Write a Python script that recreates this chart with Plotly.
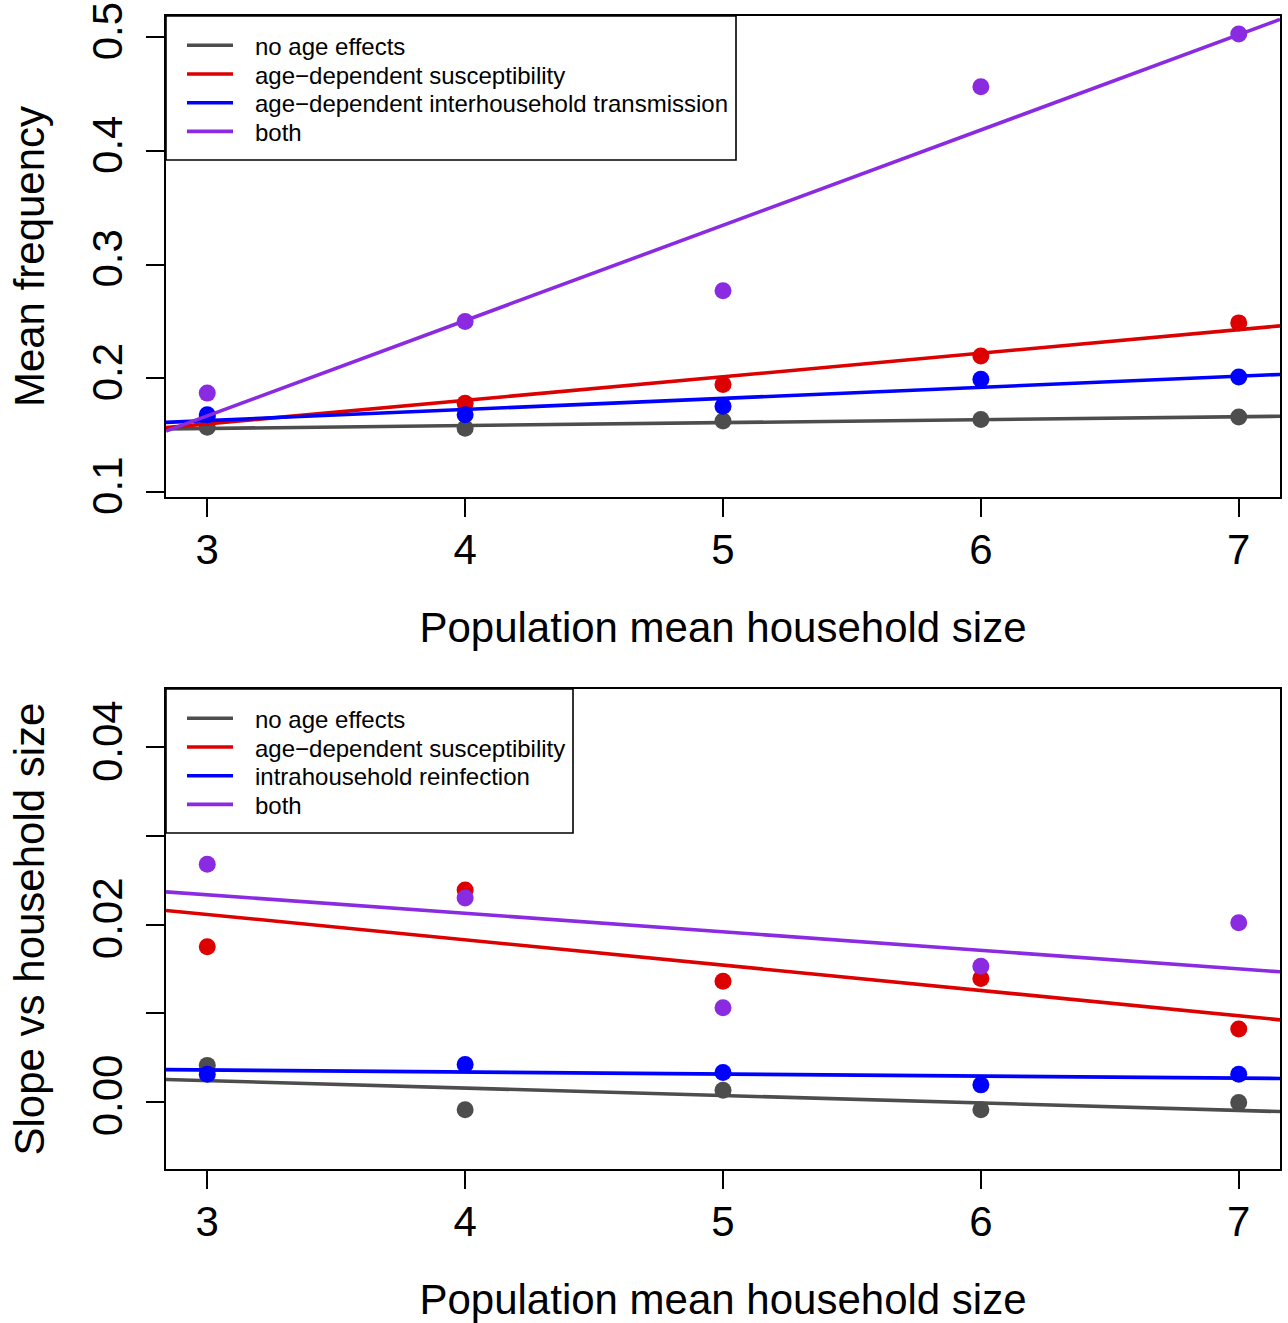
import numpy as np
import plotly.graph_objects as go

# ---------------- data ----------------
household_size = [3, 4, 5, 6, 7]
x_tick_vals = [3, 4, 5, 6, 7]
x_range = [2.84, 7.16]

names_top = ["no age effects", "age\u2212dependent susceptibility",
             "age\u2212dependent interhousehold transmission", "both"]
names_bottom = ["no age effects", "age\u2212dependent susceptibility",
                "intrahousehold reinfection", "both"]
colors = ["#4D4D4D", "#DD0000", "#0000FF", "#8A2BE2"]

# top panel: mean frequency
freq_none = [0.157, 0.156, 0.1625, 0.1637, 0.166]
freq_susc = [0.166, 0.178, 0.1945, 0.2197, 0.2488]
freq_inter = [0.168, 0.168, 0.1754, 0.1992, 0.2012]
freq_both = [0.187, 0.250, 0.277, 0.4565, 0.503]

# bottom panel: slope vs household size
slope_none = [0.0041, -0.0009, 0.0013, -0.0009, -0.0001]
slope_susc = [0.0175, 0.0239, 0.0136, 0.0139, 0.0082]
slope_intra = [0.0031, 0.0042, 0.0033, 0.0019, 0.0031]
slope_both = [0.0268, 0.0230, 0.0106, 0.0153, 0.0202]

top_ticks = [0.1, 0.2, 0.3, 0.4, 0.5]
top_ticktext = ["0.1", "0.2", "0.3", "0.4", "0.5"]
top_range = [0.0956, 0.5188]
bot_ticks = [0.0, 0.01, 0.02, 0.03, 0.04]
bot_ticktext = ["0.00", "", "0.02", "", "0.04"]
bot_range = [-0.0076, 0.0466]

x_title = "Population mean household size"
y_title_top = "Mean frequency"
y_title_bot = "Slope vs household size"

# ---------------- layout geometry (pixels) ----------------
W, H = 1288, 1323
ML, MR, MT, MB = 166, 8, 16, 154
PW = W - ML - MR
PH = H - MT - MB
top_px = (16, 497)
bot_px = (689, 1169)
top_dom = [1 - (top_px[1] - MT) / PH, 1 - (top_px[0] - MT) / PH]
bot_dom = [1 - (bot_px[1] - MT) / PH, 1 - (bot_px[0] - MT) / PH]

FONT = "Liberation Sans, Arial, Helvetica, sans-serif"
LINE_W = 3.6
fig = go.Figure()


def add_panel(series, xa, ya):
    for vals, col in zip(series, colors):
        fig.add_trace(go.Scatter(
            x=household_size, y=vals, mode="markers",
            marker=dict(color=col, size=17, line=dict(width=0)),
            xaxis=xa, yaxis=ya, showlegend=False))
        slope, intercept = np.polyfit(household_size, vals, 1)
        xs = np.array(x_range)
        fig.add_trace(go.Scatter(
            x=xs, y=intercept + slope * xs, mode="lines",
            line=dict(color=col, width=LINE_W),
            xaxis=xa, yaxis=ya, showlegend=False, hoverinfo="skip"))


add_panel([freq_none, freq_susc, freq_inter, freq_both], "x", "y")
add_panel([slope_none, slope_susc, slope_intra, slope_both], "x2", "y2")


# ---------------- R-style legends (box + line keys + text) ----------------
def add_legend(names, xref, yref, panel_h, box_w_px):
    fx = lambda px: px / PW
    fy = lambda px: 1 - px / panel_h
    fig.add_shape(type="rect", xref=xref, yref=yref,
                  x0=0, x1=fx(box_w_px), y0=fy(144), y1=1,
                  line=dict(color="black", width=1.6), fillcolor="white",
                  layer="above")
    for i, (name, col) in enumerate(zip(names, colors)):
        yy = fy(29.3 + 28.7 * i)
        fig.add_shape(type="line", xref=xref, yref=yref,
                      x0=fx(21), x1=fx(67), y0=yy, y1=yy,
                      line=dict(color=col, width=LINE_W), layer="above")
        fig.add_annotation(text=name, xref=xref, yref=yref,
                           x=fx(87), y=fy(29.3 + 28.7 * i + 1),
                           xanchor="left", yanchor="middle", showarrow=False,
                           font=dict(size=24, color="black", family=FONT))


add_legend(names_top, "x domain", "y domain", top_px[1] - top_px[0], 570)
add_legend(names_bottom, "x2 domain", "y2 domain", bot_px[1] - bot_px[0], 407)

axis_common = dict(
    showline=True, mirror=True, linecolor="black", linewidth=1.6,
    ticks="outside", ticklen=18, tickwidth=1.6, tickcolor="black",
    showgrid=False, zeroline=False, automargin=False,
    tickfont=dict(size=42, color="black", family=FONT),
)

fig.update_layout(
    width=W, height=H,
    margin=dict(l=ML, r=MR, t=MT, b=MB),
    paper_bgcolor="white", plot_bgcolor="white",
    font=dict(family=FONT, color="black"),
    showlegend=False,
    xaxis=dict(axis_common, domain=[0, 1], anchor="y", range=x_range,
               tickvals=x_tick_vals, ticklabelstandoff=-3,
               title=dict(text=x_title, font=dict(size=42), standoff=40)),
    yaxis=dict(axis_common, domain=top_dom, anchor="x", range=top_range,
               tickvals=top_ticks, ticktext=top_ticktext, tickangle=-90,
               ticklabelstandoff=7,
               title=dict(text=y_title_top, font=dict(size=42), standoff=27)),
    xaxis2=dict(axis_common, domain=[0, 1], anchor="y2", range=x_range,
                tickvals=x_tick_vals, ticklabelstandoff=-3,
                title=dict(text=x_title, font=dict(size=42), standoff=40)),
    yaxis2=dict(axis_common, domain=bot_dom, anchor="x2", range=bot_range,
                tickvals=bot_ticks, ticktext=bot_ticktext, tickangle=-90,
                ticklabelstandoff=7,
                title=dict(text=y_title_bot, font=dict(size=42), standoff=27)),
)

fig.write_html("out.html")
